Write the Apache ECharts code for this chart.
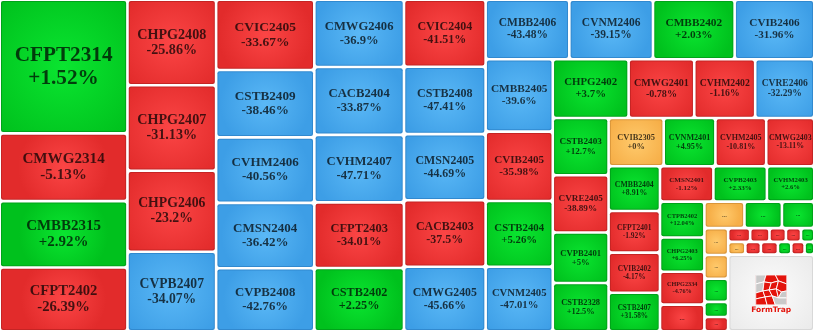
<!DOCTYPE html>
<html><head><meta charset="utf-8">
<script src="https://cdn.jsdelivr.net/npm/echarts@6/dist/echarts.min.js"></script>
<style>html,body{margin:0;padding:0;background:#fff}#c{width:813px;height:330px}</style>
</head><body><div id="c"></div>
<script>
// ---- data ----
const tickers = [
  'CFPT2314','CMWG2314','CMBB2315','CFPT2402',
  'CHPG2408','CHPG2407','CHPG2406','CVPB2407',
  'CVIC2405','CSTB2409','CVHM2406','CMSN2404','CVPB2408',
  'CMWG2406','CACB2404','CVHM2407','CFPT2403','CSTB2402',
  'CVIC2404','CSTB2408','CMSN2405','CACB2403','CMWG2405',
  'CMBB2406','CVNM2406','CMBB2402','CVIB2406',
  'CMBB2405','CVIB2405','CSTB2404','CVNM2405',
  'CHPG2402','CMWG2401','CVHM2402','CVRE2406',
  'CSTB2403','CVRE2405','CVPB2401','CSTB2328',
  'CVIB2305','CVNM2401','CVHM2405','CMWG2403',
  'CMBB2404','CFPT2401','CVIB2402','CSTB2407',
  'CMSN2401','CVPB2403','CVHM2403',
  'CTPB2402','CHPG2403','CHPG2334','...',
  '...','...','...',
  '...','...','...','...','...',
  '...','...','...','...','...',
  '...','...','...','...','...','...'
];
const changes = [
  '+1.52%','-5.13%','+2.92%','-26.39%',
  '-25.86%','-31.13%','-23.2%','-34.07%',
  '-33.67%','-38.46%','-40.56%','-36.42%','-42.76%',
  '-36.9%','-33.87%','-47.71%','-34.01%','+2.25%',
  '-41.51%','-47.41%','-44.69%','-37.5%','-45.66%',
  '-43.48%','-39.15%','+2.03%','-31.96%',
  '-39.6%','-35.98%','+5.26%','-47.01%',
  '+3.7%','-0.78%','-1.16%','-32.29%',
  '+12.7%','-38.89%','+5%','+12.5%',
  '+0%','+4.95%','-10.81%','-13.11%',
  '+8.91%','-1.92%','-4.17%','+31.58%',
  '-1.12%','+2.33%','+2.6%',
  '+12.04%','+6.25%','-4.76%','',
  '','','',
  '','','','','',
  '','','','','',
  '','','','','',''
];
const tones = [
  'g','r','g','r',
  'r','r','r','b',
  'r','b','b','b','b',
  'b','b','b','r','g',
  'r','b','b','r','b',
  'b','b','g','b',
  'b','r','g','b',
  'g','r','r','b',
  'g','r','g','g',
  'o','g','r','r',
  'g','r','r','g',
  'r','g','g',
  'g','g','r','r',
  'o','g','g',
  'o','o','g','g','r',
  'r','r','r','r','g',
  'o','r','r','g','r','g'
];
const sizes = [
  16958, 8606, 8415, 8096,
  7531, 7531, 7133, 7009,
  6860, 6566, 6390, 6380, 6145,
  5997, 6041, 6014, 5844, 5639,
  5444, 5461, 5355, 5403, 5232,
  4952, 4952, 4833, 4714,
  4824, 4623, 4382, 4308,
  4421, 3825, 3551, 3446,
  3175, 3175, 2802, 2674,
  2646, 2482, 2439, 2309,
  2283, 2124, 2052, 1965,
  1876, 1880, 1665,
  1582, 1506, 1453, 1174,
  1052, 984, 850,
  633, 562, 545, 356, 339,
  301, 264, 225, 206, 182,
  218, 197, 216, 169, 169, 123
];
// how many tiles each strip of the layout holds, in order
const stripCounts = [4, 4, 5, 5, 5, 4, 4, 4, 4, 4, 4, 3, 4, 3, 5, 5, 6];
const logoName = 'FormTrap';
const logoSize = 6562;

// ---- styling ----
const GAP = 2.6;
const palette = {
  g: ['#0ae530', '#00c11d', '#00a319'],
  r: ['#fb4545', '#e22b2b', '#c52424'],
  b: ['#5ab8f6', '#3d9ee6', '#3189cf'],
  o: ['#ffca6c', '#f6ae47', '#d9963a'],
  n: ['#fcfcfc', '#ebebeb', '#d8d8d8']
};
function fill(t) {
  const p = palette[t];
  return { type: 'radial', x: 0.5, y: 0.5, r: 0.72,
    colorStops: [{ offset: 0, color: p[0] }, { offset: 1, color: p[1] }] };
}
function leafStyle(t) {
  return { color: fill(t), borderColor: palette[t][2], borderWidth: 1, borderRadius: 2 };
}
function leaf(i) {
  const v = sizes[i], name = tickers[i], dots = name === '...';
  const fs = dots ? Math.max(5, Math.min(8, 0.2 * Math.sqrt(v)))
                  : Math.max(6, Math.min(22, 0.163 * Math.sqrt(v)));
  return {
    name: name, value: v,
    itemStyle: leafStyle(tones[i]),
    label: { fontSize: fs, lineHeight: Math.round(fs * 1.08),
             formatter: dots ? '...' : name + '\n' + changes[i] }
  };
}
const logoSvg = "<svg xmlns='http://www.w3.org/2000/svg' width='30' height='30' viewBox='0 0 30 30'>" +
  "<rect width='30' height='30' fill='#e3140c'/>" +
  "<g stroke='#fff' stroke-width='0.9' stroke-linejoin='round'>" +
  "<path d='M0 0L10 0L8 7L0 9Z' fill='#c9c9c9'/>" +
  "<path d='M10 0L19 0L22 6L15 8L8 7Z' fill='#e3140c'/>" +
  "<path d='M19 0L30 0L30 9L22 6Z' fill='#e3140c'/>" +
  "<path d='M0 9L8 7L7 16L0 18Z' fill='#c9c9c9'/>" +
  "<path d='M8 7L15 8L13 15L7 16Z' fill='#e3140c'/>" +
  "<path d='M15 8L22 6L20 14L13 15Z' fill='#e3140c'/>" +
  "<path d='M22 6L30 9L30 16L25 17L20 14Z' fill='#e3140c'/>" +
  "<path d='M0 18L7 16L9 22L0 24Z' fill='#e3140c'/>" +
  "<path d='M7 16L13 15L16 21L9 22Z' fill='#e3140c'/>" +
  "<path d='M13 15L20 14L22 23L16 21Z' fill='#e3140c'/>" +
  "<path d='M20 14L25 17L22 23Z' fill='#e3140c'/>" +
  "<path d='M25 17L30 16L30 23L22 23Z' fill='#c9c9c9'/>" +
  "<path d='M0 24L9 22L11 30L0 30Z' fill='#e3140c'/>" +
  "<path d='M9 22L16 21L19 30L11 30Z' fill='#e3140c'/>" +
  "<path d='M16 21L22 23L30 23L30 30L19 30Z' fill='#c9c9c9'/>" +
  "</g></svg>";
const logoUri = 'data:image/svg+xml;charset=utf-8,' + encodeURIComponent(logoSvg);

const groupStyle = { gapWidth: GAP, borderWidth: 0, borderColor: '#fff', color: '#fff' };
const groups = [];
let k = 0;
stripCounts.forEach(function (n, gi) {
  const children = [];
  for (let j = 0; j < n; j++) children.push(leaf(k++));
  groups.push({ name: 'strip' + gi, itemStyle: groupStyle, children: children });
});
groups.push({ name: 'logo', itemStyle: groupStyle, children: [{
  name: logoName, value: logoSize,
  itemStyle: leafStyle('n'),
  label: {
    formatter: '{sp|}\n{logo|}\n{ft|' + logoName + '}',
    rich: {
      sp: { width: 1, height: 18, lineHeight: 18 },
      logo: { width: 31, height: 30, backgroundColor: { image: logoUri } },
      ft: { fontSize: 7.5, lineHeight: 11, color: '#e3140c', fontWeight: 'bold', fontFamily: 'DejaVu Sans' }
    }
  }
}] });

const chart = echarts.init(document.getElementById('c'), null, { renderer: 'canvas' });
chart.setOption({
  animation: false,
  series: [{
    type: 'treemap',
    left: 1, top: 1, right: 0, bottom: 0,
    sort: false,
    squareRatio: 0.01,
    roam: false,
    nodeClick: false,
    silent: true,
    visibleMin: 1,
    breadcrumb: { show: false },
    label: { show: true, position: 'inside', color: 'rgba(0,0,0,0.72)',
             fontFamily: 'Liberation Serif', fontWeight: 'bold', padding: 0, overflow: 'none' },
    upperLabel: { show: false },
    itemStyle: { borderWidth: 0, gapWidth: GAP, borderColor: '#fff' },
    data: groups
  }]
});
</script></body></html>
